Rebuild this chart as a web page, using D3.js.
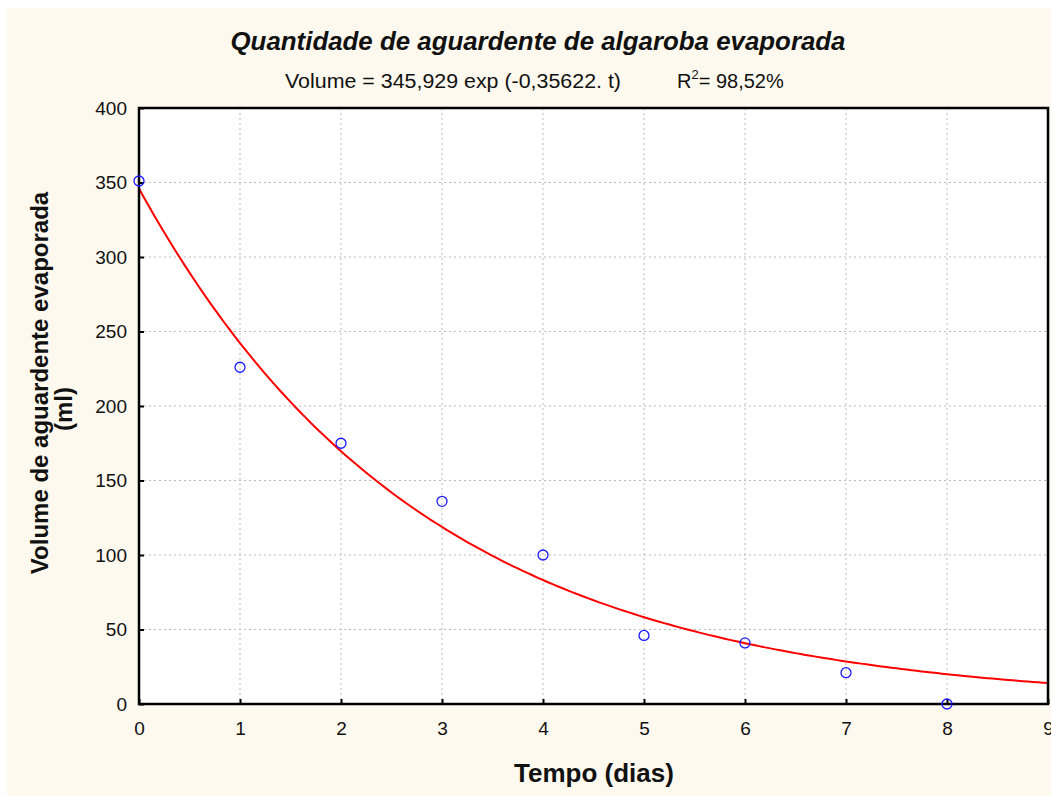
<!DOCTYPE html>
<html>
<head>
<meta charset="utf-8">
<script src="https://cdn.jsdelivr.net/npm/d3@7"></script>
<style>
  body { margin: 0; background: #fff; }
  text { font-family: "Liberation Sans", Arial, sans-serif; fill: #111; }
</style>
</head>
<body>
<svg id="chart" width="1051" height="796"></svg>
<script>
// observed data (days, ml)
var days = [0, 1, 2, 3, 4, 5, 6, 7, 8];
var volume = [351, 226, 175, 136, 100, 46, 41, 21, 0];
// fitted model from the chart subtitle
var fitA = 345.929, fitB = -0.35622;
var xTicks = [0, 1, 2, 3, 4, 5, 6, 7, 8, 9];
var yTicks = [0, 50, 100, 150, 200, 250, 300, 350, 400];

var svg = d3.select("#chart");
var pLeft = 139, pRight = 1048, pTop = 108, pBottom = 704;

svg.append("rect").attr("x", 7).attr("y", 8).attr("width", 1044).attr("height", 788)
  .attr("fill", "#fdf9ee");
svg.append("rect").attr("x", pLeft).attr("y", pTop).attr("width", pRight - pLeft).attr("height", pBottom - pTop)
  .attr("fill", "#fff");

var x = d3.scaleLinear().domain([0, 9]).range([pLeft, pRight]);
var y = d3.scaleLinear().domain([0, 400]).range([pBottom, pTop]);

// grid
svg.append("g").selectAll("line").data(xTicks.slice(1, -1)).join("line")
  .attr("x1", d => x(d)).attr("x2", d => x(d)).attr("y1", pTop).attr("y2", pBottom)
  .attr("stroke", "#bbb").attr("stroke-dasharray", "2,3");
svg.append("g").selectAll("line").data(yTicks.slice(1, -1)).join("line")
  .attr("y1", d => y(d)).attr("y2", d => y(d)).attr("x1", pLeft).attr("x2", pRight)
  .attr("stroke", "#bbb").attr("stroke-dasharray", "2,3");

// axes
var xAxis = svg.append("g").attr("transform", "translate(0," + pBottom + ")")
  .call(d3.axisBottom(x).tickValues(xTicks).tickSize(-5).tickPadding(21));
var yAxis = svg.append("g").attr("transform", "translate(" + pLeft + ",0)")
  .call(d3.axisLeft(y).tickValues(yTicks).tickSize(-5).tickPadding(12));
[xAxis, yAxis].forEach(function(g) {
  g.select(".domain").remove();
  g.selectAll("line").attr("stroke", "#000").attr("stroke-width", 2);
  g.selectAll("text").style("font-size", "19px").attr("fill", "#111")
    .style("font-family", "'Liberation Sans', Arial, sans-serif");
});
xAxis.selectAll("text").attr("dy", "0.55em");

// fitted curve
var tSamples = d3.range(0, 9.001, 0.05);
var line = d3.line().x(d => x(d)).y(d => y(fitA * Math.exp(fitB * d)));
svg.append("path").datum(tSamples).attr("d", line)
  .attr("fill", "none").attr("stroke", "#f00").attr("stroke-width", 2);

// frame
svg.append("rect").attr("x", pLeft).attr("y", pTop).attr("width", pRight - pLeft).attr("height", pBottom - pTop)
  .attr("fill", "none").attr("stroke", "#000").attr("stroke-width", 2.5);

// points
svg.append("g").selectAll("circle").data(days).join("circle")
  .attr("cx", d => x(d)).attr("cy", (d, i) => y(volume[i])).attr("r", 5)
  .attr("fill", "none").attr("stroke", "#1a1aff").attr("stroke-width", 1.3);

// titles
svg.append("text").attr("x", 538).attr("y", 50).attr("text-anchor", "middle")
  .style("font-size", "26px").style("font-weight", "bold").style("font-style", "italic")
  .attr("textLength", 615).attr("lengthAdjust", "spacingAndGlyphs")
  .text("Quantidade de aguardente de algaroba evaporada");
svg.append("text").attr("x", 285).attr("y", 88)
  .style("font-size", "20px").attr("textLength", 336).attr("lengthAdjust", "spacingAndGlyphs")
  .text("Volume = 345,929 exp (-0,35622. t)");
var r2 = svg.append("text").attr("x", 677).attr("y", 88).style("font-size", "20px");
r2.append("tspan").text("R");
r2.append("tspan").attr("dy", -9).style("font-size", "13px").text("2");
r2.append("tspan").attr("dy", 9).text("= 98,52%");

svg.append("text").attr("x", 594).attr("y", 782).attr("text-anchor", "middle")
  .style("font-size", "26px").style("font-weight", "bold").text("Tempo (dias)");
svg.append("text").attr("transform", "translate(48,383) rotate(-90)").attr("text-anchor", "middle")
  .style("font-size", "24px").style("font-weight", "bold").text("Volume de aguardente evaporada");
svg.append("text").attr("transform", "translate(72,409) rotate(-90)").attr("text-anchor", "middle")
  .style("font-size", "24px").style("font-weight", "bold").text("(ml)");
</script>
</body>
</html>
